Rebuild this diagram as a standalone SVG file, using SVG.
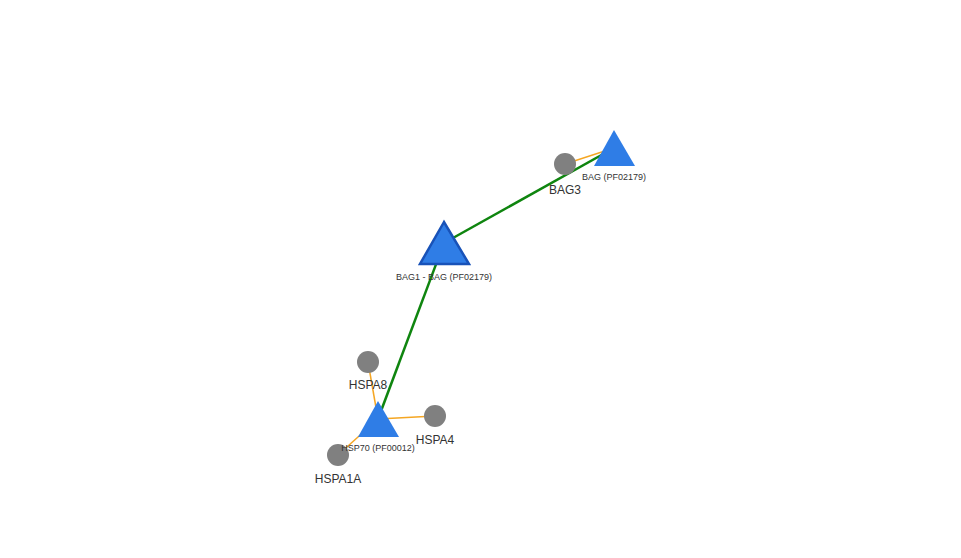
<svg xmlns="http://www.w3.org/2000/svg" width="961" height="558" viewBox="0 0 961 558">
<style>
.bg{fill:#ffffff}
.dom{fill:#2f7de6}
.domsel{fill:#2f7de6;stroke:#1852b8;stroke-width:2.5}
.prot{fill:#808080}
.lbl{font-family:"Liberation Sans",Arial,sans-serif;font-size:12px;fill:#333333;text-anchor:middle}
.slbl{font-family:"Liberation Sans",Arial,sans-serif;font-size:9px;fill:#333333;text-anchor:middle}
.ddi{stroke:#0f850f;stroke-width:2.5;fill:none}
.pd{stroke:#f5a623;stroke-width:1.5;fill:none}
</style>
<rect class="bg" x="0" y="0" width="961" height="558"/>
<g id="connectors">
<line class="pd" x1="565" y1="164" x2="614" y2="148"/>
<line class="pd" x1="368" y1="362" x2="378" y2="419"/>
<line class="pd" x1="435" y1="416" x2="378" y2="419"/>
<line class="pd" x1="338" y1="455" x2="378" y2="419"/>
<line class="ddi" x1="444" y1="243" x2="614" y2="148"/>
<line class="ddi" x1="444" y1="243" x2="378" y2="419"/>
</g>
<g id="BAG3">
<circle class="prot" cx="565" cy="164" r="11"/>
<text class="lbl" x="565" y="194">BAG3</text>
</g>
<g id="BAG_PF02179">
<polygon class="dom" points="614,130 594,166 635,166"/>
<text class="slbl" x="614" y="180">BAG (PF02179)</text>
</g>
<g id="BAG1_BAG_PF02179">
<polygon class="domsel" points="444,222 420,264 469,264"/>
<text class="slbl" x="444" y="280">BAG1 - BAG (PF02179)</text>
</g>
<g id="HSPA8">
<circle class="prot" cx="368" cy="362" r="11"/>
<text class="lbl" x="368" y="389">HSPA8</text>
</g>
<g id="HSPA4">
<circle class="prot" cx="435" cy="416" r="11"/>
<text class="lbl" x="435" y="444">HSPA4</text>
</g>
<g id="HSPA1A">
<circle class="prot" cx="338" cy="455" r="11"/>
<text class="lbl" x="338" y="483">HSPA1A</text>
</g>
<g id="HSP70_PF00012">
<polygon class="dom" points="378,401 358,437 399,437"/>
<text class="slbl" x="378" y="451">HSP70 (PF00012)</text>
</g>
</svg>
